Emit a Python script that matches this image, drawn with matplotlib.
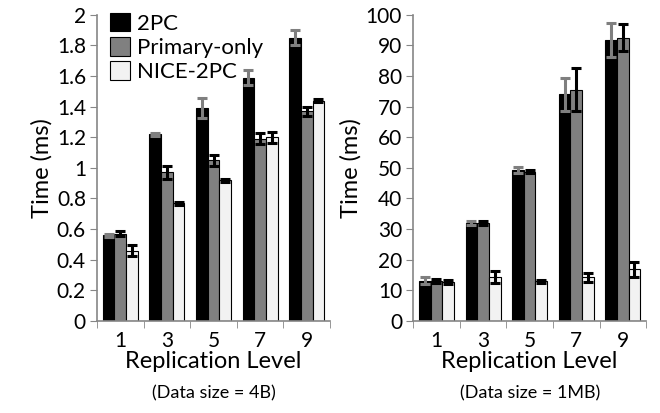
import matplotlib
matplotlib.use("Agg")
import matplotlib.pyplot as plt
import numpy as np

plt.rcParams['font.family'] = ['Lato', 'DejaVu Sans']

levels = ["1", "3", "5", "7", "9"]
series = ["2PC", "Primary-only", "NICE-2PC"]

small_2pc = [0.56, 1.22, 1.39, 1.59, 1.85]
small_prim = [0.57, 0.97, 1.05, 1.19, 1.37]
small_nice = [0.46, 0.77, 0.92, 1.20, 1.44]
small_2pc_err = [0.01, 0.01, 0.065, 0.05, 0.05]
small_prim_err = [0.015, 0.04, 0.035, 0.035, 0.03]
small_nice_err = [0.035, 0.01, 0.01, 0.035, 0.01]

big_2pc = [13.2, 32.0, 49.3, 74.0, 91.8]
big_prim = [13.0, 31.9, 48.8, 75.5, 92.6]
big_nice = [12.8, 14.4, 13.0, 14.3, 16.8]
big_2pc_err = [1.2, 0.5, 1.0, 5.5, 5.5]
big_prim_err = [0.6, 0.6, 0.6, 7.0, 4.3]
big_nice_err = [0.6, 2.0, 0.5, 1.5, 2.3]

colors = ["#000000", "#808080", "#f2f2f2"]
err_colors = ["#7f7f7f", "#000000", "#000000"]
spine_c = "#868686"

fig = plt.figure(figsize=(6.6, 4.13), dpi=100)
ax1 = fig.add_axes([0.147, 0.223, 0.353, 0.741])
ax2 = fig.add_axes([0.626, 0.223, 0.353, 0.741])

def draw(ax, vals, errs, ylim, yticks, yticklabels):
    x = np.arange(len(levels))
    w = 0.25
    handles = []
    for i, (v, e) in enumerate(zip(vals, errs)):
        b = ax.bar(x + (i - 1) * w, v, w, color=colors[i], edgecolor="black",
                   linewidth=0.8, label=series[i], zorder=2)
        ax.errorbar(x + (i - 1) * w, v, yerr=e, fmt="none", ecolor=err_colors[i],
                    elinewidth=2.2, capsize=3.5, capthick=2.2, zorder=3)
        handles.append(b)
    ax.set_xlim(-0.5, len(levels) - 0.5)
    ax.set_ylim(*ylim)
    ax.set_yticks(yticks)
    ax.set_yticklabels(yticklabels, fontsize=15)
    ax.set_xticks(x)
    ax.set_xticklabels(levels, fontsize=15)
    ax.set_xticks(np.arange(len(levels) + 1) - 0.5, minor=True)
    ax.tick_params(axis="x", which="major", length=0, pad=7)
    ax.tick_params(axis="x", which="minor", length=5, color=spine_c, direction="out")
    ax.tick_params(axis="y", length=5, color=spine_c, direction="out", pad=3)
    for s in ["top", "right"]:
        ax.spines[s].set_visible(False)
    for s in ["left", "bottom"]:
        ax.spines[s].set_color(spine_c)
        ax.spines[s].set_linewidth(1.2)
    ax.set_ylabel("Time (ms)", fontsize=17, labelpad=3)
    ax.set_xlabel("Replication Level", fontsize=17, labelpad=0)
    return handles

h = draw(ax1, [small_2pc, small_prim, small_nice],
         [small_2pc_err, small_prim_err, small_nice_err],
         (0, 2), np.arange(0, 2.01, 0.2),
         ["0", "0.2", "0.4", "0.6", "0.8", "1", "1.2", "1.4", "1.6", "1.8", "2"])
draw(ax2, [big_2pc, big_prim, big_nice],
     [big_2pc_err, big_prim_err, big_nice_err],
     (0, 100), np.arange(0, 101, 10), [str(v) for v in range(0, 101, 10)])

fig.text(0.147 + 0.353 / 2, 0.048, "(Data size = 4B)", ha="center", va="center", fontsize=13)
fig.text(0.626 + 0.353 / 2, 0.048, "(Data size = 1MB)", ha="center", va="center", fontsize=13)

leg = ax1.legend(handles=h, loc="upper left", bbox_to_anchor=(0.0, 1.05),
                 frameon=False, fontsize=16, handlelength=0.9, handleheight=0.9,
                 handletextpad=0.3, labelspacing=0.15, borderaxespad=0.2)

fig.savefig("out.png", dpi=100)
